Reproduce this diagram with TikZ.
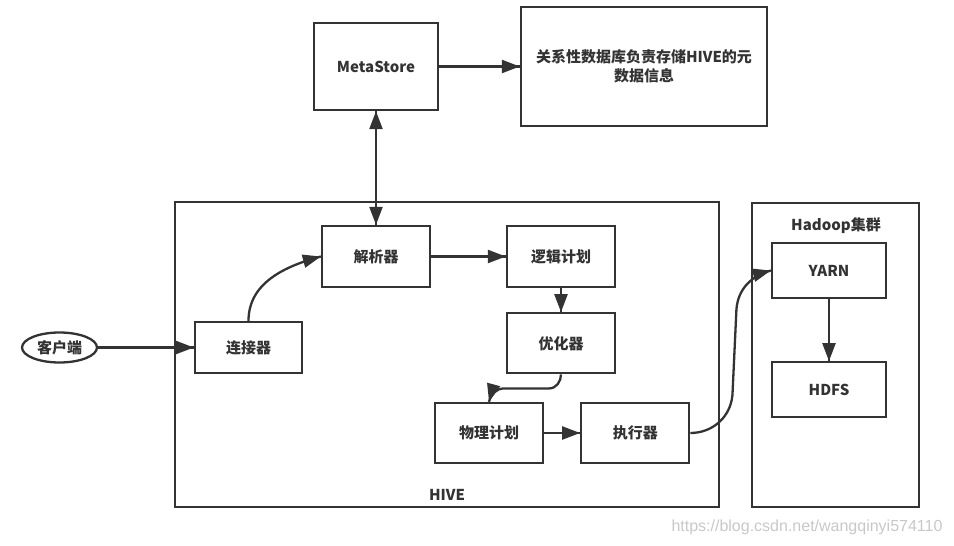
\documentclass[tikz,border=0pt]{standalone}
\usepackage{fontspec}
\setmainfont{Noto Sans CJK SC}
\newfontfamily\urlfont{Liberation Sans}
\usetikzlibrary{positioning, arrows.meta, decorations.markings, shapes.geometric}
\definecolor{inkgray}{HTML}{333333}
\definecolor{markgray}{HTML}{C8C8C8}

\begin{document}
\begin{tikzpicture}[%
		x=1pt, y=-1pt,
		inkgray,
		font=\fontsize{15}{19}\selectfont\bfseries,
		module/.style={
			rectangle,
			minimum width=108pt,
			minimum height=61pt,
			line width=2.3pt,
			align=center,
			draw
		},
		client/.style={
			ellipse,
			minimum width=75pt,
			minimum height=30pt,
			inner sep=0pt,
			line width=2.3pt,
			draw
		},
		frame/.style={
			rectangle,
			line width=2.3pt,
			draw
		},
		flow/.style={
			line width=2.3pt,
			decoration={markings,mark=at position 0.9999 with {\arrow{Triangle[length=18pt,width=13pt]}}},
			postaction={decorate}
		},
		duplex/.style={
			line width=2.3pt,
			decoration={markings,
				mark=at position 0.0001 with {\arrowreversed{Triangle[length=18pt,width=13pt]}},
				mark=at position 0.9999 with {\arrow{Triangle[length=18pt,width=13pt]}}},
			postaction={decorate}
		}]

		\useasboundingbox (0,0) rectangle (954,546);

		% FRAMES

		\node (hive) [frame, minimum width=544pt, minimum height=305pt] at (447,354.5) {};
		\node (hadoop) [frame, minimum width=167pt, minimum height=304pt] at (835.5,355) {};
		\node (hivelabel) at (447,495) {HIVE};
		\node (hadooplabel) at (836,226) {Hadoop集群};

		% METASTORE

		\node (meta) [module, minimum width=124pt, minimum height=87pt] at (376,66.5) {MetaStore};
		\node (info) [module, minimum width=246pt, minimum height=119pt] at (644,66.5) {关系性数据库负责存储HIVE的元\\数据信息};

		% HIVE

		\node (cli) [client] at (59.5,347.5) {客户端};
		\node (conn) [module, minimum width=107pt, minimum height=51pt] at (248.5,347.5) {连接器};
		\node (parse) [module] at (376,256.5) {解析器};
		\node (logic) [module] at (561,256.5) {逻辑计划};
		\node (opt) [module, minimum height=60pt, below=24pt of logic] {优化器};
		\node (phys) [module, minimum height=60pt] at (489,433) {物理计划};
		\node (exec) [module, minimum height=60pt, right=36pt of phys] {执行器};

		% HADOOP

		\node (yarn) [module, minimum width=114pt, minimum height=55pt] at (829,270.5) {YARN};
		\node (hdfs) [module, minimum width=114pt, minimum height=55pt, below=62pt of yarn] {HDFS};

		% LINES

		\draw[duplex] (meta) -- (parse);
		\draw[flow] (meta) -- (info);
		\draw[flow] (cli) -- (conn);
		\draw[flow] (conn.north) to[out=90, in=195] (parse.west);
		\draw[flow] (parse) -- (logic);
		\draw[flow] (logic) -- (opt);
		\draw[flow] (opt.south) to[out=-90, in=0] ++(-12,14) -- ++(-45,0) to[out=180, in=75] (phys.north);
		\draw[flow] (phys) -- (exec);
		\draw[flow] (exec.east) to[out=0, in=-95] ++(42,-38) -- ++(4,-86) to[out=85, in=195] (yarn.west);
		\draw[flow] (yarn) -- (hdfs);

		\node (watermark) [markgray, font=\urlfont\mdseries\fontsize{16}{19}\selectfont] at (807,527) {https://blog.csdn.net/wangqinyi574110};
\end{tikzpicture}
\end{document}
